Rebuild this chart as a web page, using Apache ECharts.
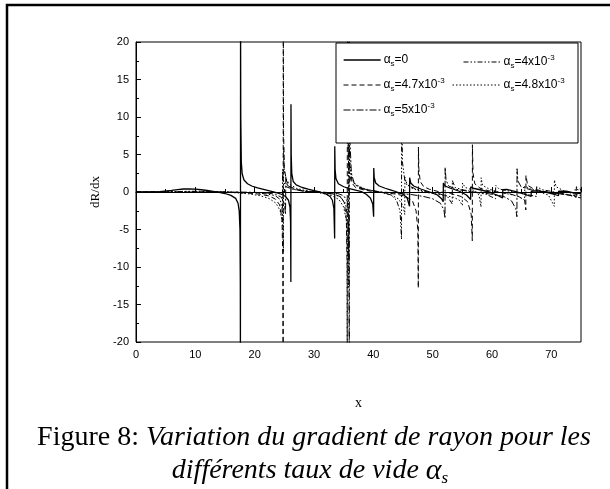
<!DOCTYPE html>
<html>
<head>
<meta charset="utf-8">
<script src="https://cdn.jsdelivr.net/npm/echarts@6/dist/echarts.min.js"></script>
<style>html,body{margin:0;padding:0;background:#fff;}#c{width:610px;height:489px;}</style>
</head>
<body>
<div id="c"></div>
<script>
// x tick labels / axis ranges
const xTicks = [0, 10, 20, 30, 40, 50, 60, 70];
const yTicks = [-20, -15, -10, -5, 0, 5, 10, 15, 20];

// α_s = 0 (solid)
const alpha0 = [[0,0],[2,0.01],[4,0.06],[6,0.22],[7,0.33],[8,0.4],[9,0.42],[10,0.38],[11,0.3],[12,0.2],[13,0.08],[14,-0.05],[15,-0.2],[16,-0.45],[16.8,-0.85],[17.2,-1.5],[17.4,-2.6],[17.52,-5],[17.58,-12],[17.6,-25],[17.62,25],[17.66,10],[17.75,4],[17.9,2.4],[18.2,1.6],[18.8,1.1],[19.5,0.8],[20.5,0.55],[21.5,0.35],[22.5,0.15],[23.5,-0.05],[24.5,-0.3],[25.2,-0.6],[25.7,-1.1],[25.95,-2],[26.05,-4],[26.1,-12],[26.12,11.7],[26.16,5],[26.25,2.5],[26.5,1.4],[27,0.95],[28,0.6],[29,0.38],[30,0.18],[31,0],[32,-0.25],[32.7,-0.6],[33.1,-1.1],[33.35,-2.2],[33.48,-6.2],[33.5,6.1],[33.56,3],[33.7,1.8],[34.1,1.1],[35,0.7],[36,0.45],[37,0.25],[38,0.05],[38.8,-0.3],[39.5,-0.8],[39.9,-1.6],[40.05,-3.3],[40.07,3.2],[40.15,1.9],[40.4,1.2],[41,0.8],[42,0.5],[43,0.25],[44,0],[45,-0.3],[45.7,-0.8],[46.1,-1.9],[46.12,1.9],[46.3,1.2],[46.8,0.8],[48,0.4],[49.5,0],[50.8,-0.4],[51.5,-0.9],[51.78,-1.3],[51.8,1.2],[52.1,0.8],[53,0.5],[54.5,0.1],[55.7,-0.4],[56.4,-1],[56.42,0.7],[56.8,0.5],[58,0.3],[59.5,0],[60.8,-0.4],[61.8,-0.8],[61.82,0.3],[62.5,0.35],[64,0.05],[65.5,-0.3],[66.6,-0.6],[66.62,0.1],[67.5,0.15],[69,0],[70.5,-0.3],[71.2,-0.5],[71.22,0.1],[72.5,0.1],[74,-0.15],[75,-0.2]];

// α_s = 4x10^-3 (dash-dot-dot)
const alpha4 = [[0,0],[5,0.02],[8,0.08],[10,0.1],[12,0.08],[15,0.02],[18,-0.05],[20,-0.1],[22,-0.25],[23.5,-0.5],[24.3,-1.0],[24.6,-2.2],[24.68,-4],[24.7,3],[24.8,1.5],[25.3,0.7],[26.5,0.35],[28,0.15],[30,0],[32,-0.15],[33.5,-0.35],[34.5,-0.7],[35.3,-1.5],[35.7,-3.5],[35.85,-9],[35.87,9],[36,3.5],[36.4,1.5],[37.2,0.8],[38.5,0.4],[40,0.15],[41.5,-0.05],[43,-0.4],[43.9,-1.1],[44.5,-2.5],[44.75,-6.3],[44.77,15],[44.9,4],[45.3,1.6],[46,0.8],[47.5,0.3],[49,0.05],[51,-0.2],[52.5,-0.6],[53.3,-1.6],[53.32,1.5],[53.8,0.6],[55,0.3],[57,0],[59,-0.3],[60.6,-0.9],[60.62,0.9],[61.2,0.4],[63,0.1],[65,-0.2],[67.5,-0.6],[67.52,0.7],[68.5,0.3],[70.5,0],[72.5,-0.3],[74,-0.5],[74.02,0.4],[75,0.2]];

// α_s = 4.7x10^-3 (dashed)
const alpha47 = [[0,0],[5,0],[10,0],[14,-0.02],[17,-0.08],[19,-0.15],[21,-0.3],[22.5,-0.55],[23.5,-0.95],[24.2,-1.7],[24.6,-3.5],[24.75,-9],[24.8,-25],[24.82,25],[24.87,8],[25,3],[25.4,1.4],[26,0.7],[27,0.35],[28.5,0.1],[30,0],[32,-0.1],[33.5,-0.3],[34.5,-0.65],[35.1,-1.4],[35.45,-3.5],[35.58,-10],[35.6,-25],[35.62,25],[35.68,8],[35.85,3],[36.3,1.3],[37,0.6],[38.5,0.25],[40,0.05],[42,-0.1],[44,-0.3],[45.5,-0.6],[46.6,-1.2],[47.2,-2.5],[47.5,-5],[47.58,-12.8],[47.6,6],[47.68,3],[47.9,1.4],[48.5,0.7],[49.5,0.35],[51,0.05],[53,-0.2],[54.8,-0.6],[55.9,-1.3],[56.5,-3],[56.68,-6.5],[56.7,6.3],[56.8,2.5],[57.1,1.1],[58,0.5],[59.5,0.15],[61,0],[63,-0.25],[64.5,-0.6],[65.5,-1.1],[65.7,-2.4],[65.72,2.2],[66,0.9],[67,0.4],[69,0.05],[71,-0.2],[73,-0.4],[74.2,-0.7],[74.22,0.7],[75,0.3]];

// α_s = 4.8x10^-3 (dotted)
const alpha48 = [[0,0],[5,0],[10,0.02],[14,0],[17,-0.1],[19,-0.25],[21,-0.5],[22.5,-0.9],[23.6,-1.5],[24.3,-2.5],[24.7,-4.2],[24.85,-8],[24.88,6],[25,2.8],[25.4,1.6],[26,1],[27,0.5],[28.5,0.2],[30,0],[31.5,-0.2],[33,-0.5],[34.2,-1],[35,-2],[35.5,-4],[35.8,-12.7],[35.82,20],[35.95,5],[36.3,2],[37,1],[38.5,0.45],[40,0.15],[41.5,-0.1],[43,-0.4],[44.2,-0.9],[45,-1.8],[45.3,-3],[45.32,2],[45.6,1],[46.5,0.5],[48,0.1],[50,-0.2],[52,-0.45],[53.5,-0.7],[54.5,-1.1],[55,-1.8],[55.02,1.2],[55.5,0.6],[57,0.2],[57.8,-0.4],[58.15,-2],[58.17,1.9],[58.4,0.9],[59.5,0.4],[61,0],[63,-0.3],[64.5,-0.6],[65.5,-1.1],[65.52,0.8],[66.5,0.4],[68,0],[69.5,-0.4],[70.5,-1.9],[70.52,1.6],[70.8,0.7],[72,0.2],[73.5,-0.2],[75,-0.5]];

// α_s = 5x10^-3 (dash-dot)
const alpha5 = [[0,0],[5,0],[10,0],[14,0],[18,-0.02],[20,-0.05],[22,-0.12],[23.5,-0.3],[24.5,-0.7],[25,-1.5],[25.2,-3],[25.25,2],[25.5,0.9],[26.5,0.4],[28,0.15],[30,0.05],[32,-0.05],[34,-0.2],[35,-0.5],[35.6,-1.2],[35.85,-4],[35.95,-25],[35.97,25],[36.05,7],[36.3,2.5],[36.8,1.1],[37.8,0.5],[39.5,0.2],[41.5,0],[44,-0.15],[46.5,-0.35],[48.5,-0.6],[50,-0.9],[51.3,-1.5],[51.9,-2.4],[52.08,-3.5],[52.1,3.3],[52.25,1.6],[52.7,0.8],[54,0.35],[56,0.1],[58,-0.1],[60,-0.3],[62,-0.6],[63.3,-1.2],[64,-2.2],[64.2,-3.3],[64.22,3.1],[64.35,1.5],[64.9,0.7],[66.5,0.3],[68.5,0.05],[70.5,-0.15],[72.5,-0.35],[74,-0.6],[75,-0.8]];

const seriesNames = ['a0', 'a4', 'a47', 'a48', 'a5'];
const legendLabels = {
  a0: '{a|α}{s|s}{a|=0}',
  a4: '{a|α}{s|s}{a|=4x10}{p|-3}',
  a47: '{a|α}{s|s}{a|=4.7x10}{p|-3}',
  a48: '{a|α}{s|s}{a|=4.8x10}{p|-3}',
  a5: '{a|α}{s|s}{a|=5x10}{p|-3}'
};

const chart = echarts.init(document.getElementById('c'), null, {renderer: 'canvas'});
const font = "'Liberation Sans', Arial, sans-serif";
const serif = "'Liberation Serif', 'Times New Roman', serif";

const rich = {
  a: {fontSize: 12, fontFamily: font, color: '#000', lineHeight: 16, verticalAlign: 'middle'},
  s: {fontSize: 8, fontFamily: font, color: '#000', lineHeight: 16, verticalAlign: 'bottom'},
  p: {fontSize: 8, fontFamily: font, color: '#000', lineHeight: 16, verticalAlign: 'top'}
};

const lineStyles = {
  a0: {color: '#000', width: 1.3, type: 'solid'},
  a4: {color: '#000', width: 1, type: [5, 2, 1.5, 2, 1.5, 2]},
  a47: {color: '#000', width: 1, type: [5, 3]},
  a48: {color: '#000', width: 1, type: [1.5, 2]},
  a5: {color: '#000', width: 1, type: [7, 2, 2, 2]}
};
const dataMap = {a0: alpha0, a4: alpha4, a47: alpha47, a48: alpha48, a5: alpha5};

function mkLegend(name, left, top, w) {
  return {
    data: [name], left: left, top: top, itemWidth: w, itemHeight: 14, itemGap: 0,
    selectedMode: false, z: 20, padding: 0,
    itemStyle: {opacity: 0, borderWidth: 0},
    lineStyle: lineStyles[name],
    formatter: n => legendLabels[n],
    textStyle: {rich: rich, padding: [0, 0, 0, -2]}
  };
}

const option = {
  animation: false,
  backgroundColor: '#fff',
  grid: {left: 136, right: 29, top: 42, bottom: 147, show: true, borderColor: '#000', borderWidth: 1},
  xAxis: {
    type: 'value', min: xTicks[0], max: 75, interval: 10,
    name: 'x', nameLocation: 'middle', nameGap: 54,
    nameTextStyle: {fontFamily: serif, fontSize: 14, color: '#000'},
    axisLine: {lineStyle: {color: '#000', width: 1}},
    axisTick: {inside: true, length: 5, lineStyle: {color: '#000'}},
    minorTick: {show: true, splitNumber: 2, length: 3, lineStyle: {color: '#000'}},
    splitLine: {show: false},
    axisLabel: {fontFamily: font, fontSize: 11, color: '#000', margin: 7, showMaxLabel: false}
  },
  yAxis: {
    type: 'value', min: yTicks[0], max: yTicks[yTicks.length - 1], interval: 5,
    name: 'dR/dx', nameLocation: 'middle', nameGap: 34,
    nameTextStyle: {fontFamily: serif, fontSize: 13, color: '#000'},
    axisLine: {show: true, lineStyle: {color: '#000', width: 1}},
    axisTick: {show: true, inside: true, length: 5, lineStyle: {color: '#000'}},
    minorTick: {show: true, splitNumber: 2, length: 3, lineStyle: {color: '#000'}},
    splitLine: {show: false},
    axisLabel: {fontFamily: font, fontSize: 11, color: '#000', margin: 7}
  },
  legend: [
    mkLegend('a0', 343, 54, 37),
    mkLegend('a4', 463, 54, 37),
    mkLegend('a47', 343, 77, 37),
    mkLegend('a48', 452, 77, 48),
    mkLegend('a5', 343, 102, 37)
  ],
  graphic: [
    {type: 'rect', z: 10, shape: {x: 336, y: 43, width: 242, height: 100},
     style: {fill: '#fff', stroke: '#000', lineWidth: 1}},
    {type: 'polyline', z: 10, shape: {points: [[7, 489], [7, 5], [610, 5]]},
     style: {fill: null, stroke: '#000', lineWidth: 2.5}},
    {type: 'text', z: 10, x: 314, y: 438,
     style: {text: '{n|Figure 8: }{i|Variation du gradient de rayon pour les}', align: 'center', verticalAlign: 'middle',
       rich: {n: {fontFamily: serif, fontSize: 28, fill: '#000'}, i: {fontFamily: serif, fontSize: 28, fontStyle: 'italic', fill: '#000'}}}},
    {type: 'text', z: 10, x: 310, y: 471,
     style: {text: '{i|différents taux de vide }{g|α}{gs|s}', align: 'center', verticalAlign: 'middle',
       rich: {i: {fontFamily: serif, fontSize: 28, fontStyle: 'italic', fill: '#000', lineHeight: 32, verticalAlign: 'middle'},
              g: {fontFamily: serif, fontSize: 30, fontStyle: 'italic', fill: '#000', lineHeight: 32, verticalAlign: 'middle'},
              gs: {fontFamily: serif, fontSize: 17, fontStyle: 'italic', fill: '#000', lineHeight: 32, verticalAlign: 'bottom'}}}}
  ],
  series: seriesNames.map(n => ({
    name: n, type: 'line', data: dataMap[n], showSymbol: false, symbol: 'none',
    clip: true, lineStyle: lineStyles[n], itemStyle: {color: '#000'}, z: 2
  }))
};
chart.setOption(option);
</script>
</body>
</html>
